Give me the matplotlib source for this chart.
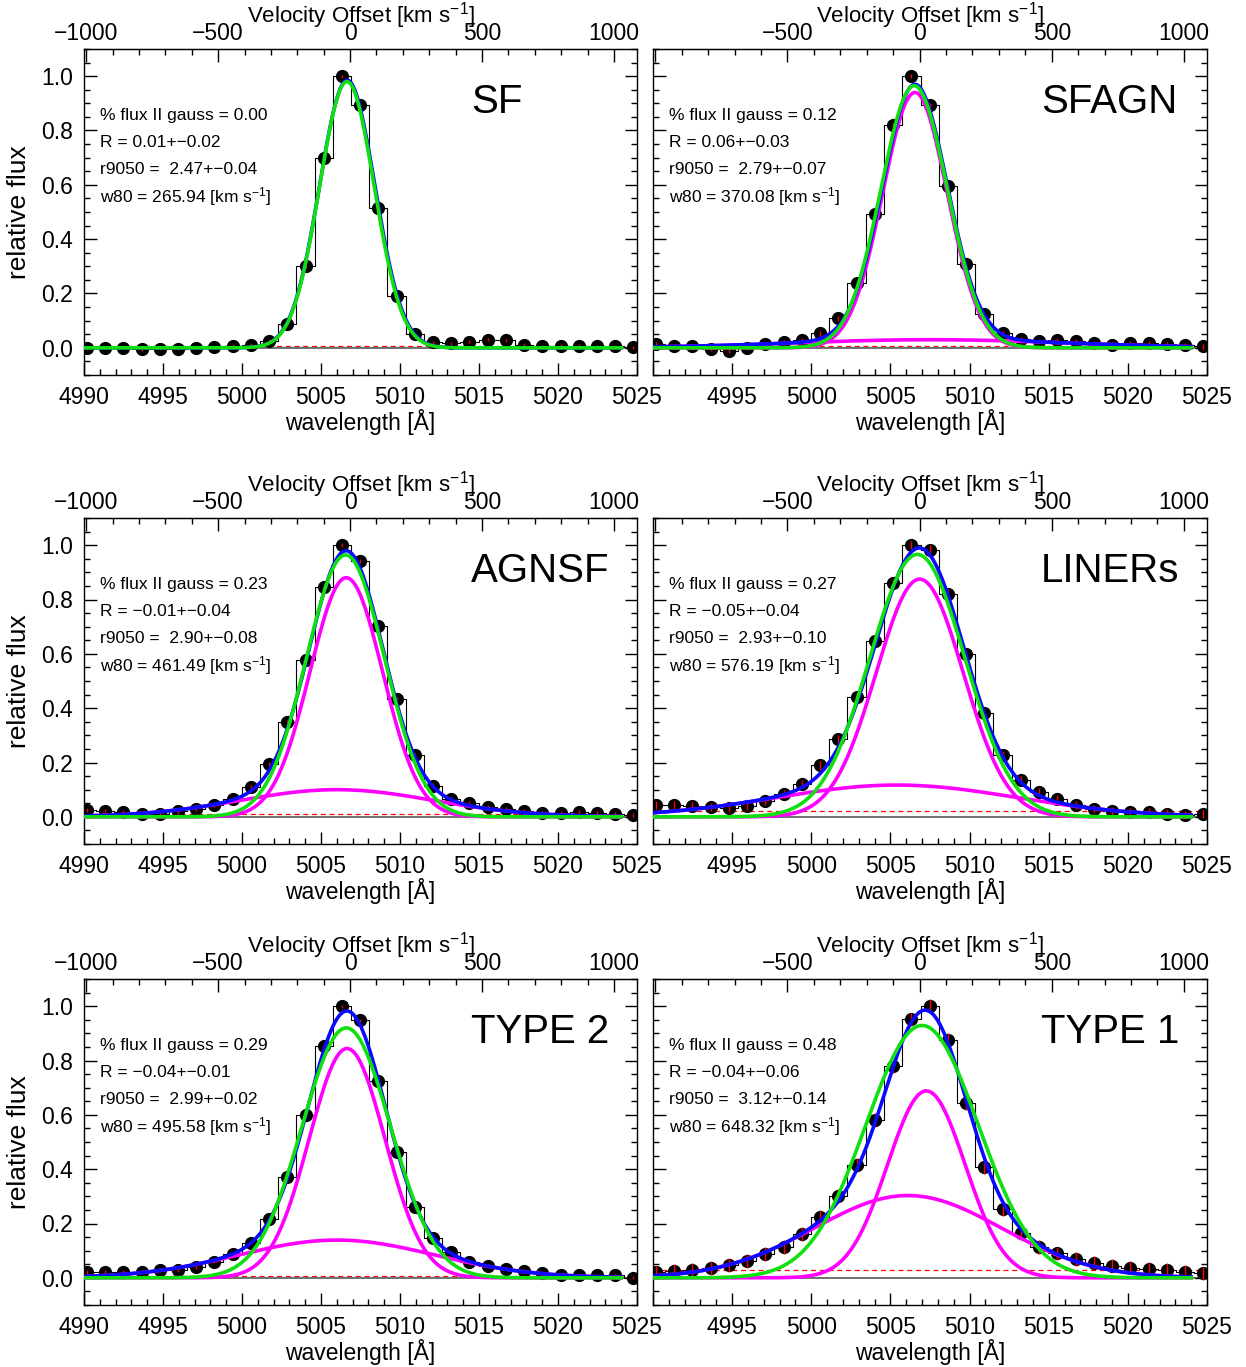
import numpy as np
import matplotlib
matplotlib.use("Agg")
import matplotlib.pyplot as plt
from matplotlib.ticker import MultipleLocator, FixedLocator, FuncFormatter

plt.rcParams['font.family'] = ['Liberation Sans', 'DejaVu Sans']
plt.rcParams['mathtext.fontset'] = 'custom'
plt.rcParams['mathtext.rm'] = 'Liberation Sans'
plt.rcParams['mathtext.it'] = 'Liberation Sans:italic'
plt.rcParams['mathtext.bf'] = 'Liberation Sans:bold'

C_KMS = 299792.458
LAMBDA0 = 5006.84  # [OIII] rest wavelength used for the velocity axis

# ---------------- data ----------------
wavelength = [4990.18, 4991.33, 4992.49, 4993.64, 4994.79, 4995.95, 4997.10,
              4998.25, 4999.40, 5000.56, 5001.71, 5002.86, 5004.02, 5005.17,
              5006.32, 5007.48, 5008.63, 5009.78, 5010.93, 5012.09, 5013.24,
              5014.39, 5015.55, 5016.70, 5017.85, 5019.01, 5020.16, 5021.31,
              5022.46, 5023.62, 5024.77]

flux_sf = [-0.002, 0.0, 0.0, -0.005, -0.003, -0.003, 0.0, 0.002, 0.007, 0.01,
           0.025, 0.087, 0.30, 0.70, 1.00, 0.895, 0.513, 0.19, 0.05, 0.02,
           0.016, 0.023, 0.03, 0.028, 0.012, 0.005, 0.007, 0.007, 0.005, 0.005,
           0.002]
flux_sfagn = [0.013, 0.005, 0.005, -0.005, -0.01, 0.0, 0.013, 0.02, 0.03, 0.053,
              0.108, 0.238, 0.493, 0.82, 1.00, 0.894, 0.597, 0.308, 0.123, 0.053,
              0.033, 0.025, 0.03, 0.025, 0.017, 0.012, 0.017, 0.017, 0.015, 0.01,
              0.005]
flux_agnsf = [0.025, 0.02, 0.017, 0.012, 0.012, 0.02, 0.03, 0.044, 0.066, 0.11,
              0.194, 0.348, 0.577, 0.845, 1.00, 0.941, 0.702, 0.434, 0.227, 0.115,
              0.066, 0.052, 0.037, 0.03, 0.02, 0.015, 0.015, 0.017, 0.015, 0.01,
              0.007]
flux_liners = [0.042, 0.042, 0.039, 0.037, 0.034, 0.039, 0.058, 0.083, 0.12, 0.189,
               0.287, 0.442, 0.648, 0.861, 1.00, 0.984, 0.822, 0.599, 0.383, 0.227,
               0.137, 0.092, 0.066, 0.044, 0.029, 0.022, 0.017, 0.017, 0.012, 0.007,
               0.01]
flux_type2 = [0.021, 0.021, 0.021, 0.023, 0.028, 0.028, 0.04, 0.06, 0.087, 0.129,
              0.216, 0.372, 0.601, 0.855, 1.00, 0.948, 0.725, 0.465, 0.261, 0.147,
              0.094, 0.06, 0.045, 0.033, 0.026, 0.016, 0.011, 0.009, 0.009, 0.009,
              0.001]
flux_type1 = [0.02, 0.026, 0.028, 0.036, 0.047, 0.061, 0.087, 0.114, 0.161, 0.223,
              0.302, 0.416, 0.58, 0.779, 0.951, 1.00, 0.877, 0.644, 0.409, 0.252,
              0.166, 0.114, 0.09, 0.069, 0.056, 0.045, 0.038, 0.033, 0.028, 0.023,
              0.016]

panel_names = ["SF", "SFAGN", "AGNSF", "LINERs", "TYPE 2", "TYPE 1"]
flux_err = [0.006, 0.008, 0.008, 0.015, 0.006, 0.025]
continuum = [0.005, 0.008, 0.010, 0.020, 0.006, 0.030]

# single-Gaussian fit
single_amp = [0.980, 0.965, 0.964, 0.966, 0.920, 0.929]
single_cen = [5006.64, 5006.50, 5006.55, 5006.70, 5006.60, 5007.00]
single_sig = [1.73, 2.10, 2.47, 3.00, 2.80, 3.55]
# double-Gaussian fit: narrow and broad components
narrow_amp = [0.985, 0.940, 0.880, 0.875, 0.844, 0.688]
narrow_cen = [5006.66, 5006.55, 5006.60, 5006.85, 5006.65, 5007.27]
narrow_sig = [1.75, 2.04, 2.30, 2.75, 2.40, 2.45]
broad_amp = [0.0, 0.030, 0.100, 0.117, 0.139, 0.303]
broad_cen = [5006.6, 5007.5, 5006.0, 5005.4, 5006.0, 5006.1]
broad_sig = [5.0, 8.5, 6.1, 7.6, 6.2, 5.9]

frac_second = ["0.00", "0.12", "0.23", "0.27", "0.29", "0.48"]
r_value = ["0.01+\u22120.02", "0.06+\u22120.03", "\u22120.01+\u22120.04",
           "\u22120.05+\u22120.04", "\u22120.04+\u22120.01", "\u22120.04+\u22120.06"]
r9050 = ["2.47+\u22120.04", "2.79+\u22120.07", "2.90+\u22120.08",
         "2.93+\u22120.10", "2.99+\u22120.02", "3.12+\u22120.14"]
w80 = ["265.94", "370.08", "461.49", "576.19", "495.58", "648.32"]

velocity_ticks = [-1000, -500, 0, 500, 1000]

fluxes = [flux_sf, flux_sfagn, flux_agnsf, flux_liners, flux_type2, flux_type1]

# ---------------- drawing ----------------
W, H = 1246, 1367
fig = plt.figure(figsize=(W / 100, H / 100), dpi=100)

col_left = [84, 653]
col_width = [553, 554]
row_top = [49, 518, 979]
ax_height = 326

GREEN = '#10e010'
BLUE = '#0a0aff'
MAGENTA = '#ff00ff'
FS = 16.5


def gauss(x, a, c, s):
    return a * np.exp(-0.5 * ((x - c) / s) ** 2)


def wl2vel(x):
    return (x - LAMBDA0) / LAMBDA0 * C_KMS


def vel2wl(v):
    return LAMBDA0 * (1 + v / C_KMS)


def minus_fmt(v):
    s = f"{v:.0f}"
    return s.replace('-', '\u2212')


model_wl = np.linspace(4990.0, 5024.0, 600)
wl = np.array(wavelength)

for i in range(6):
    r, c = divmod(i, 2)
    ax = fig.add_axes([col_left[c] / W, 1 - (row_top[r] + ax_height) / H,
                       col_width[c] / W, ax_height / H])
    ax.set_xlim(4990, 5025)
    ax.set_ylim(-0.1, 1.1)
    fl = np.array(fluxes[i])

    ax.plot(wl, fl, drawstyle='steps-mid', color='black', lw=0.8, zorder=2)
    ax.axhline(continuum[i], color='red', ls=(0, (4, 3)), lw=0.9, zorder=1)
    ax.axhline(0, color='#666666', lw=1.3, zorder=1)
    ax.plot(wl, fl, 'o', color='black', ms=8.5, zorder=3)
    ax.errorbar(wl, fl, yerr=flux_err[i], fmt='none', ecolor='red',
                elinewidth=1.0, capsize=0, zorder=4)

    narrow = gauss(model_wl, narrow_amp[i], narrow_cen[i], narrow_sig[i])
    broad = gauss(model_wl, broad_amp[i], broad_cen[i], broad_sig[i])
    single = gauss(model_wl, single_amp[i], single_cen[i], single_sig[i])
    if broad_amp[i] > 0:
        ax.plot(model_wl, narrow, color=MAGENTA, lw=2.6, zorder=5)
        ax.plot(model_wl, broad, color=MAGENTA, lw=2.6, zorder=5)
    ax.plot(model_wl, narrow + broad, color=BLUE, lw=2.6, zorder=6)
    ax.plot(model_wl, single, color=GREEN, lw=2.6, zorder=7)

    # axes, ticks
    ax.xaxis.set_major_locator(FixedLocator([4990, 4995, 5000, 5005, 5010,
                                             5015, 5020, 5025]))
    ax.xaxis.set_minor_locator(MultipleLocator(1))
    ax.yaxis.set_major_locator(FixedLocator([0.0, 0.2, 0.4, 0.6, 0.8, 1.0]))
    ax.yaxis.set_minor_locator(MultipleLocator(0.05))
    ax.yaxis.set_major_formatter(FuncFormatter(lambda v, p: f"{v:.1f}"))
    if c == 1:
        ax.xaxis.set_major_formatter(FuncFormatter(
            lambda v, p: '' if abs(v - 4990) < 0.01 else f"{v:.0f}"))
    else:
        ax.xaxis.set_major_formatter(FuncFormatter(lambda v, p: f"{v:.0f}"))
    ax.tick_params(which='both', direction='in', top=False, right=True,
                   labelsize=FS, width=1.0)
    ax.tick_params(which='major', length=9, pad=8)
    ax.tick_params(which='minor', length=4.5)
    if c == 1:
        ax.tick_params(labelleft=False)
    else:
        ax.set_ylabel('relative flux', fontsize=19, labelpad=7)
    ax.set_xlabel('wavelength [\u00c5]', fontsize=FS, labelpad=0)
    for sp in ax.spines.values():
        sp.set_linewidth(1.0)

    sec = ax.secondary_xaxis('top', functions=(wl2vel, vel2wl))
    sec.xaxis.set_major_locator(FixedLocator(velocity_ticks))
    sec.xaxis.set_minor_locator(MultipleLocator(100))
    if c == 1:
        sec.xaxis.set_major_formatter(FuncFormatter(
            lambda v, p: '' if abs(v + 1000) < 1 else minus_fmt(v)))
    else:
        sec.xaxis.set_major_formatter(FuncFormatter(lambda v, p: minus_fmt(v)))
    sec.tick_params(which='both', direction='in', labelsize=FS, width=1.0)
    sec.tick_params(which='major', length=9, pad=3)
    sec.tick_params(which='minor', length=4.5)
    sec.set_xlabel('Velocity Offset [km s$^{-1}$]', fontsize=16, labelpad=-0.5)

    # annotations
    tr = ax.get_yaxis_transform()
    lines = [f"% flux II gauss = {frac_second[i]}",
             f"R = {r_value[i]}",
             f"r9050 =  {r9050[i]}",
             f"w80 = {w80[i]} [km s$^{{-1}}$]"]
    for j, txt in enumerate(lines):
        ax.text(0.029, 0.857 - 0.1 * j, txt, transform=tr, fontsize=12.5,
                ha='left', va='center', zorder=8)
    ax.text(0.70, 0.905, panel_names[i], transform=tr, fontsize=29,
            ha='left', va='center', zorder=8)

fig.savefig('out.png', dpi=100)
